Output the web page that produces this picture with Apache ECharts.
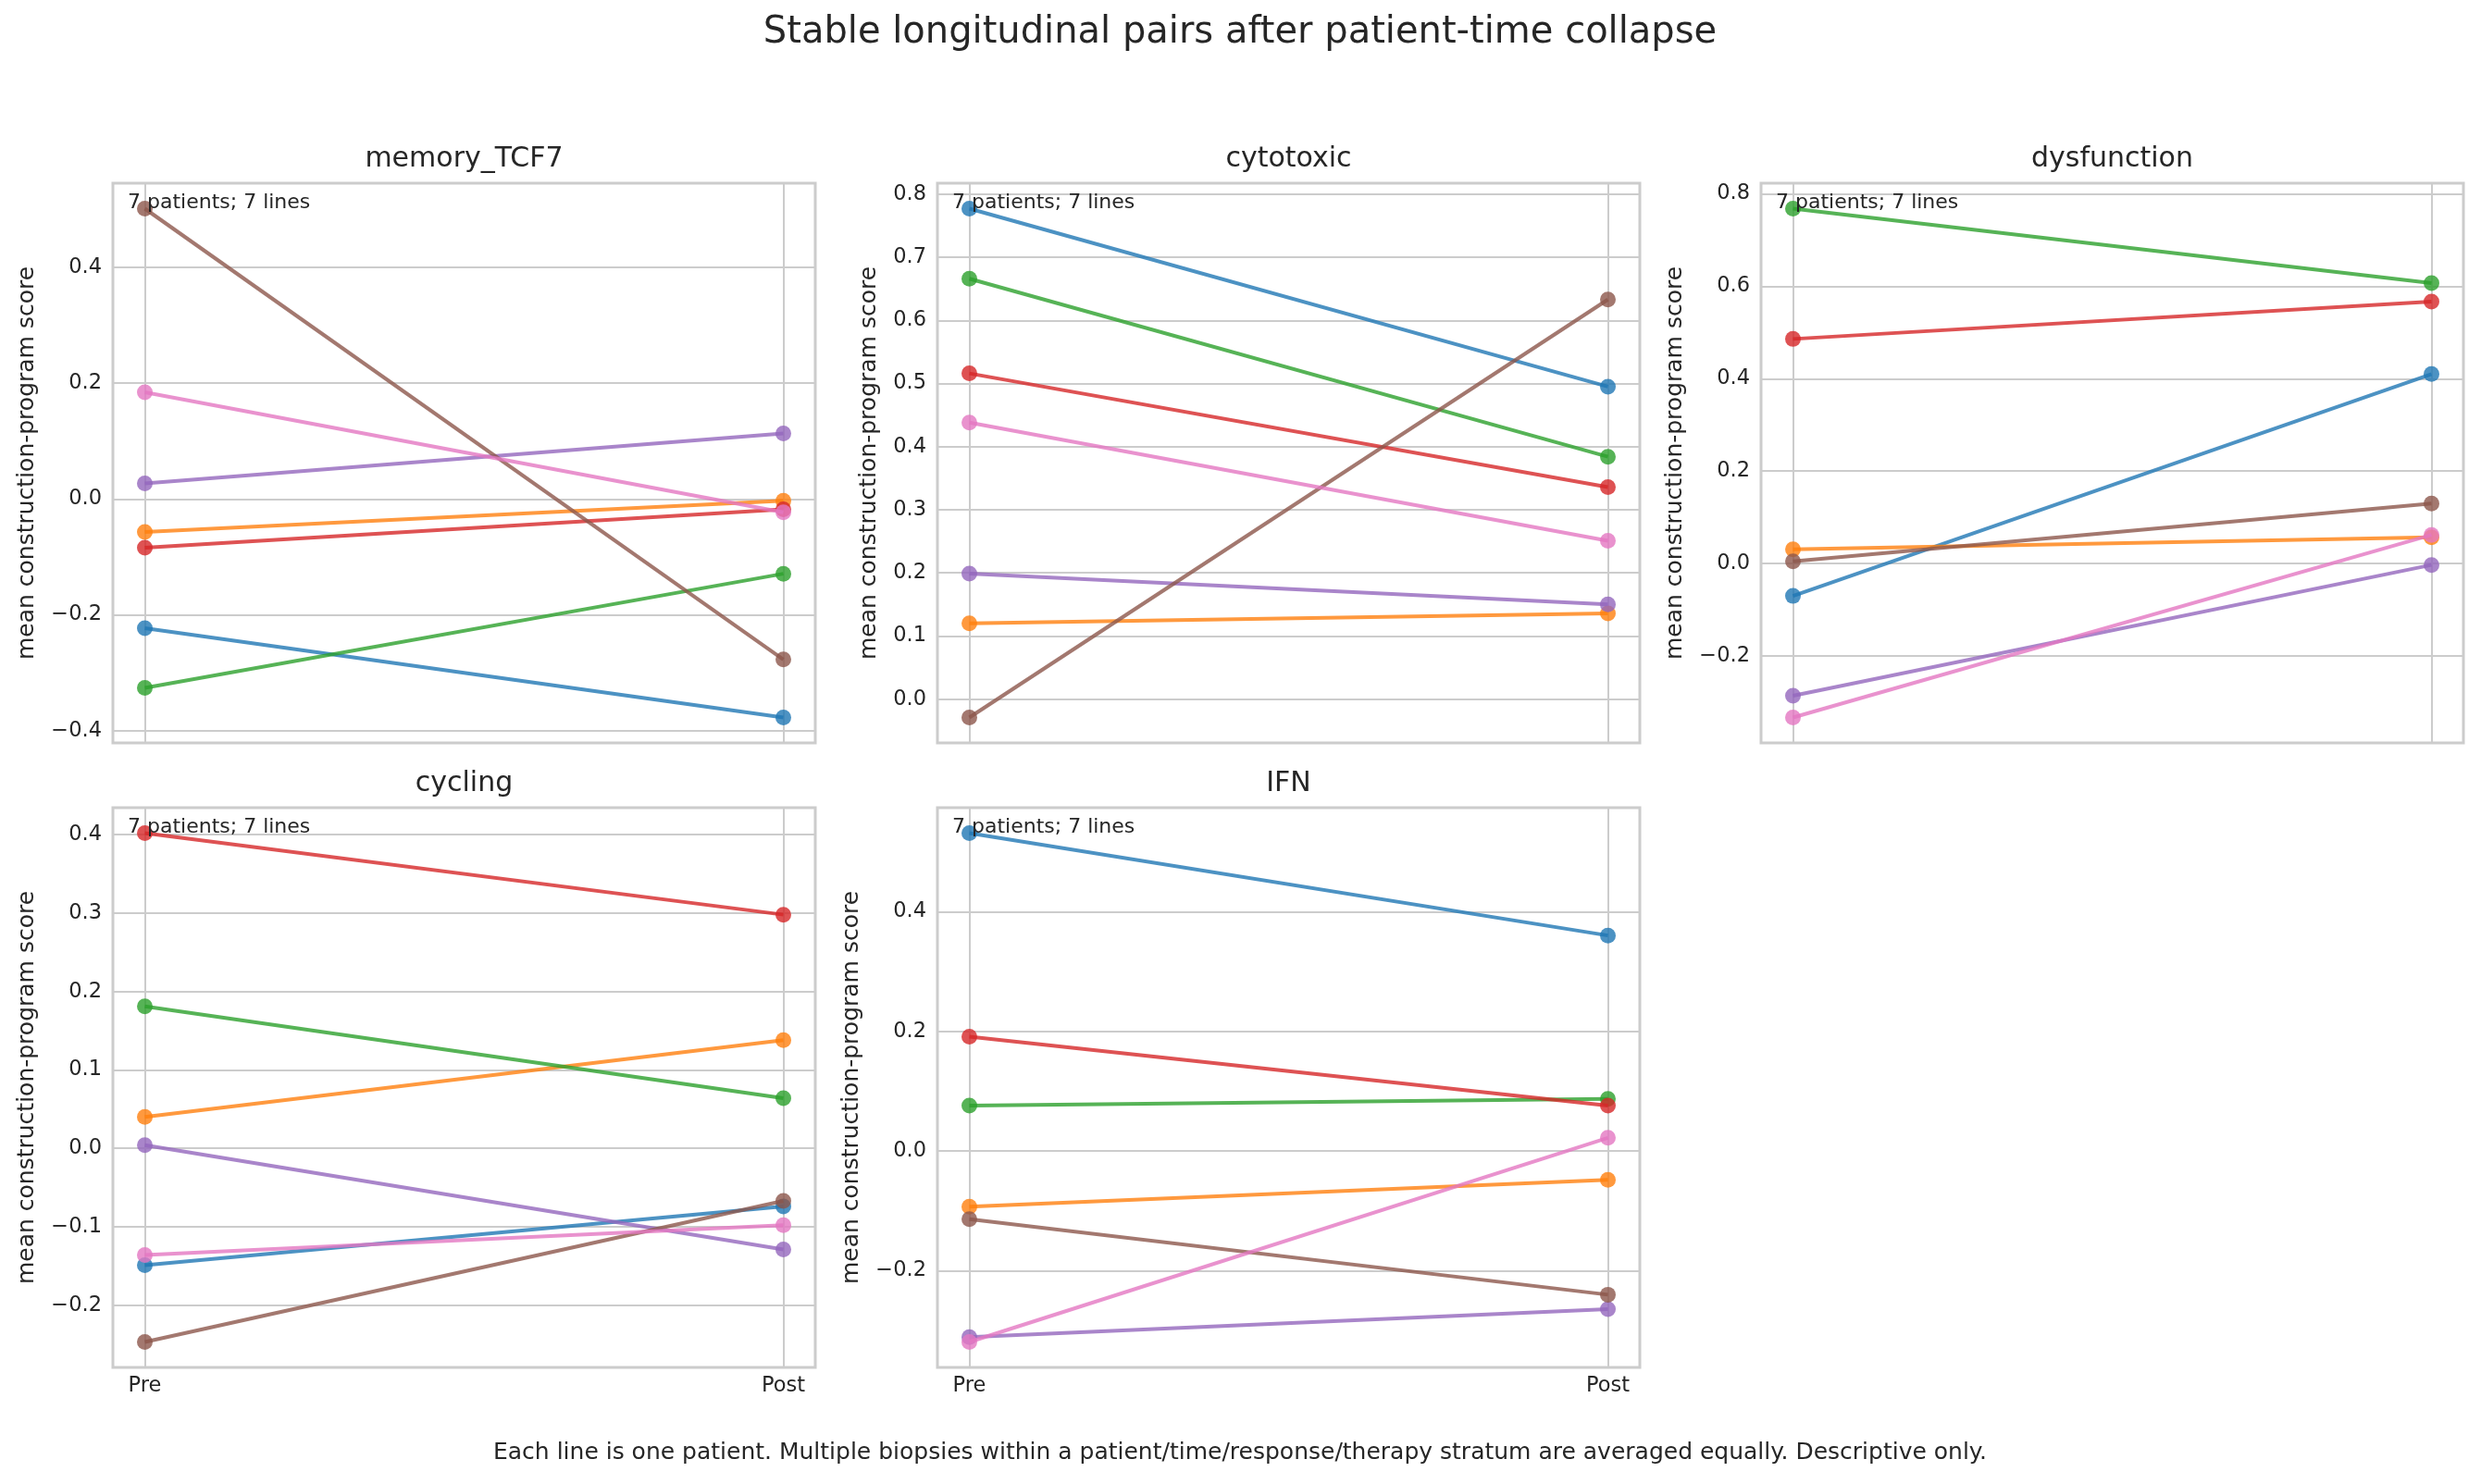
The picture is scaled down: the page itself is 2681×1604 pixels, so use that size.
<!DOCTYPE html>
<html>
<head>
<meta charset="utf-8">
<script src="https://cdn.jsdelivr.net/npm/echarts@6/dist/echarts.min.js"></script>
<style>html,body{margin:0;padding:0;background:#ffffff}#chart{width:2681px;height:1604px}</style>
</head>
<body>
<div id="chart"></div>
<script>
// ---- data ----
const panelNames = ['memory_TCF7', 'cytotoxic', 'dysfunction', 'cycling', 'IFN'];
const timeLabels = ['Pre', 'Post'];
const patients = ['P1', 'P2', 'P3', 'P4', 'P5', 'P6', 'P7'];

const memoryPre  = [-0.223, -0.057, -0.326, -0.084, 0.027, 0.501, 0.184];
const memoryPost = [-0.377, -0.003, -0.129, -0.018, 0.113, -0.277, -0.023];

const cytotoxicPre  = [0.777, 0.120, 0.666, 0.516, 0.199, -0.029, 0.438];
const cytotoxicPost = [0.495, 0.136, 0.384, 0.336, 0.150, 0.633, 0.251];

const dysfunctionPre  = [-0.070, 0.031, 0.768, 0.486, -0.286, 0.005, -0.333];
const dysfunctionPost = [0.410, 0.057, 0.607, 0.567, -0.003, 0.130, 0.062];

const cyclingPre  = [-0.149, 0.040, 0.181, 0.402, 0.004, -0.247, -0.136];
const cyclingPost = [-0.074, 0.138, 0.064, 0.298, -0.129, -0.067, -0.098];

const ifnPre  = [0.531, -0.093, 0.076, 0.191, -0.311, -0.114, -0.319];
const ifnPost = [0.360, -0.048, 0.087, 0.076, -0.264, -0.240, 0.022];

const memoryTicks = [-0.4, -0.2, 0.0, 0.2, 0.4];
const cytotoxicTicks = [0.0, 0.1, 0.2, 0.3, 0.4, 0.5, 0.6, 0.7, 0.8];
const dysfunctionTicks = [-0.2, 0.0, 0.2, 0.4, 0.6, 0.8];
const cyclingTicks = [-0.2, -0.1, 0.0, 0.1, 0.2, 0.3, 0.4];
const ifnTicks = [-0.2, 0.0, 0.2, 0.4];

const annotationText = '7 patients; 7 lines';
const mainTitle = 'Stable longitudinal pairs after patient-time collapse';
const footerText = 'Each line is one patient. Multiple biopsies within a patient/time/response/therapy stratum are averaged equally. Descriptive only.';
const yAxisTitle = 'mean construction-program score';

// ---- build ----
const preSets = [memoryPre, cytotoxicPre, dysfunctionPre, cyclingPre, ifnPre];
const postSets = [memoryPost, cytotoxicPost, dysfunctionPost, cyclingPost, ifnPost];
const tickSets = [memoryTicks, cytotoxicTicks, dysfunctionTicks, cyclingTicks, ifnTicks];
const colors = ['#1f77b4', '#ff7f0e', '#2ca02c', '#d62728', '#9467bd', '#8c564b', '#e377c2'];

const FONT = "'DejaVu Sans', sans-serif";
const TXT = '#262626';
const GRIDC = '#cccccc';

const layout = [
  {left: 122, top: 198},
  {left: 1013, top: 198},
  {left: 1903, top: 198},
  {left: 122, top: 873},
  {left: 1013, top: 873}
];
const W = 759, H = 605;
const showX = [false, false, false, true, true];
const nameGaps = [80, 61, 80, 80, 80];

function fmt(v) {
  return v.toFixed(1).replace('-', '\u2212');
}

const grids = [], xAxes = [], yAxes = [], series = [], graphics = [];

panelNames.forEach((name, p) => {
  const L = layout[p];
  grids.push({left: L.left, top: L.top, width: W, height: H, show: true,
    borderColor: GRIDC, borderWidth: 3, backgroundColor: 'transparent'});
  const all = preSets[p].concat(postSets[p]);
  const lo = Math.min.apply(null, all), hi = Math.max.apply(null, all);
  const pad = 0.05 * (hi - lo);
  xAxes.push({
    type: 'value', gridIndex: p, min: -0.05, max: 1.05,
    axisLine: {show: false}, axisTick: {show: false, customValues: [0, 1]},
    axisLabel: {show: showX[p], customValues: [0, 1], margin: 9,
      fontSize: 22.5, fontFamily: FONT, color: TXT,
      formatter: v => timeLabels[Math.round(v)]},
    splitLine: {show: true, lineStyle: {color: GRIDC, width: 2}}
  });
  yAxes.push({
    type: 'value', gridIndex: p, min: lo - pad, max: hi + pad,
    name: yAxisTitle, nameLocation: 'middle', nameGap: nameGaps[p],
    nameTextStyle: {fontSize: 25, fontFamily: FONT, color: TXT},
    axisLine: {show: false}, axisTick: {show: false, customValues: tickSets[p]},
    axisLabel: {customValues: tickSets[p], margin: 12, fontSize: 22.5,
      fontFamily: FONT, color: TXT, formatter: v => fmt(v)},
    splitLine: {show: true, lineStyle: {color: GRIDC, width: 2}}
  });
  patients.forEach((pt, i) => {
    series.push({
      type: 'line', name: pt, xAxisIndex: p, yAxisIndex: p,
      data: [[0, preSets[p][i]], [1, postSets[p][i]]],
      symbol: 'circle', symbolSize: 17,
      lineStyle: {color: colors[i], width: 4, opacity: 0.8},
      itemStyle: {color: colors[i], opacity: 0.8},
      emphasis: {disabled: true}, animation: false, z: 2 + i
    });
  });
  // subplot title
  graphics.push({type: 'text', x: L.left + W / 2, y: L.top - 26, z: 10,
    style: {text: name, fontSize: 30, fontFamily: FONT, fill: TXT,
      textAlign: 'center', textVerticalAlign: 'middle'}});
  // annotation
  graphics.push({type: 'text', x: L.left + 16, y: L.top + 21, z: 10,
    style: {text: annotationText, fontSize: 22, fontFamily: FONT, fill: TXT,
      textAlign: 'left', textVerticalAlign: 'middle'}});
});

graphics.push({type: 'text', x: 1340, y: 36, z: 10,
  style: {text: mainTitle, fontSize: 40, fontFamily: FONT, fill: TXT,
    textAlign: 'center', textVerticalAlign: 'middle'}});
graphics.push({type: 'text', x: 1340, y: 1570, z: 10,
  style: {text: footerText, fontSize: 25, fontFamily: FONT, fill: TXT,
    textAlign: 'center', textVerticalAlign: 'middle'}});

const chart = echarts.init(document.getElementById('chart'), null, {renderer: 'canvas'});
chart.setOption({
  backgroundColor: '#ffffff',
  animation: false,
  grid: grids,
  xAxis: xAxes,
  yAxis: yAxes,
  series: series,
  graphic: graphics,
  tooltip: {show: false}
});
</script>
</body>
</html>
